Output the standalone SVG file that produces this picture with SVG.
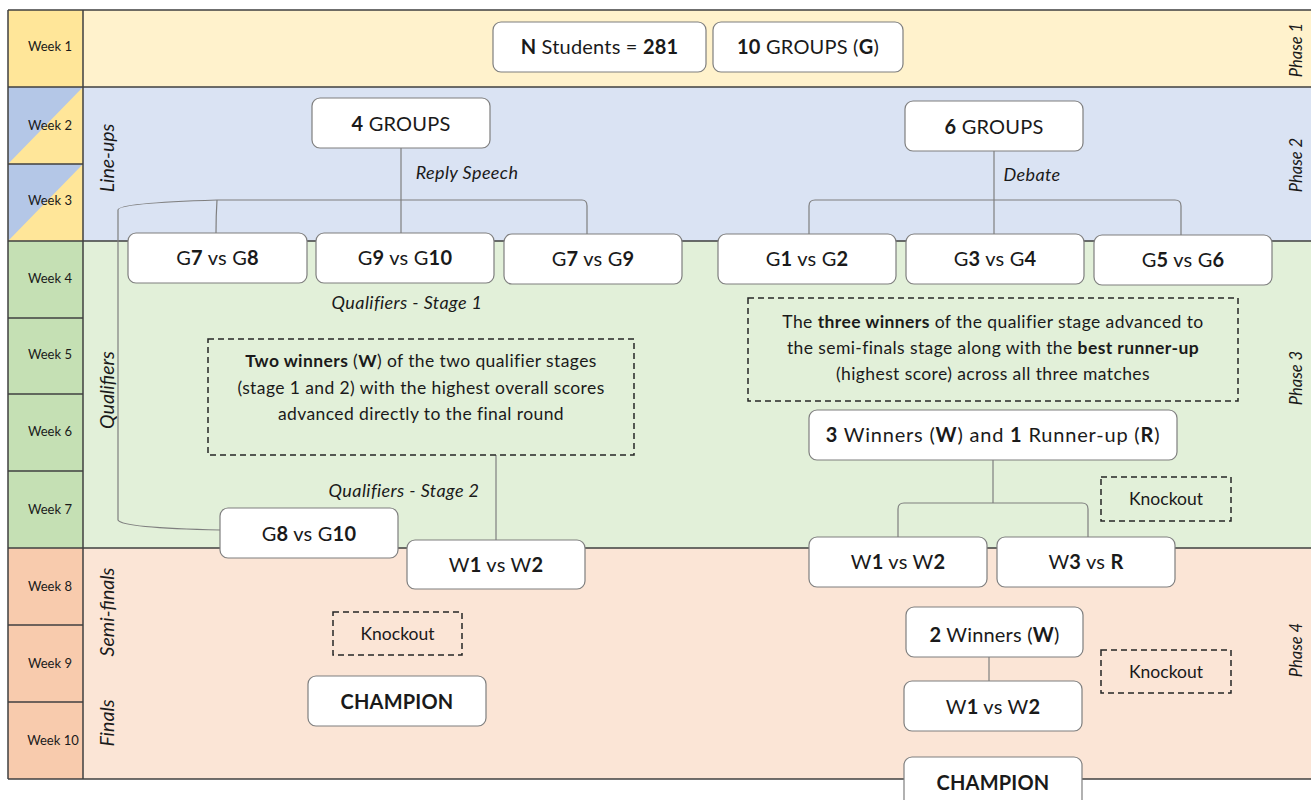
<svg xmlns="http://www.w3.org/2000/svg" width="1311" height="800" viewBox="0 0 1311 800">
<style>
text{font-family:Lato,"Open Sans","Liberation Sans",sans-serif;fill:#1a1a1a}
.wk{font-size:13px;text-anchor:middle}
.side{font-size:19.5px;font-style:italic;text-anchor:middle}
.ph{font-size:16.5px;font-style:italic;text-anchor:middle}
.node{fill:#fff;stroke:#7f7f7f;stroke-width:1.2}
.nt{font-size:20px;text-anchor:middle;letter-spacing:0.2px}
.nt.wide{letter-spacing:0.8px}
.dash{fill:none;stroke:#262626;stroke-width:1.5;stroke-dasharray:6 4}
.dt{font-size:17.5px;text-anchor:middle;letter-spacing:0.4px}
.kt{font-size:17.5px;text-anchor:middle}
.lbl{font-size:18px;font-style:italic;text-anchor:middle;letter-spacing:0.4px}
.b{font-weight:bold}
.conn{fill:none;stroke:#7f7f7f;stroke-width:1.2}
.sep{stroke:#404040;stroke-width:1.5;fill:none}
</style>
<rect width="1311" height="800" fill="#fff"/>
<g id="bands">
<rect x="8" y="10" width="1303" height="77" fill="#FFF2CC"/>
<rect x="8" y="87" width="1303" height="154" fill="#DAE3F3"/>
<rect x="8" y="241" width="1303" height="307" fill="#E2F0D9"/>
<rect x="8" y="548" width="1303" height="231" fill="#FBE5D6"/>
</g>
<g id="weeks">
<rect x="8" y="10" width="75" height="77" fill="#FFE699"/>
<rect x="8" y="87" width="75" height="77" fill="#FFE699"/>
<polygon points="8,87 83,87 8,164" fill="#B4C7E7"/>
<rect x="8" y="164" width="75" height="77" fill="#FFE699"/>
<polygon points="8,164 83,164 8,241" fill="#B4C7E7"/>
<rect x="8" y="241" width="75" height="307" fill="#C5E0B4"/>
<rect x="8" y="548" width="75" height="231" fill="#F8CBAD"/>
<text class="wk" x="50" y="51">Week 1</text>
<text class="wk" x="50" y="130">Week 2</text>
<text class="wk" x="50" y="205">Week 3</text>
<text class="wk" x="50" y="283">Week 4</text>
<text class="wk" x="50" y="359">Week 5</text>
<text class="wk" x="50" y="436">Week 6</text>
<text class="wk" x="50" y="514">Week 7</text>
<text class="wk" x="50" y="591">Week 8</text>
<text class="wk" x="50" y="668">Week 9</text>
<text class="wk" x="53" y="745">Week 10</text>
<path class="sep" d="M8,164H83M8,318H83M8,394H83M8,471H83M8,625H83M8,702H83"/>
</g>
<g id="grid">
<path class="sep" d="M8,10H1311M8,87H1311M8,241H1311M8,548H1311M8,779H1311M8,10V779M83,10V779"/>
</g>
<g id="side-labels">
<text class="side" transform="translate(114,158) rotate(-90)">Line-ups</text>
<text class="side" transform="translate(114,390) rotate(-90)">Qualifiers</text>
<text class="side" transform="translate(114,612) rotate(-90)">Semi-finals</text>
<text class="side" transform="translate(114,723) rotate(-90)">Finals</text>
<text class="ph" transform="translate(1302,50) rotate(-90)">Phase 1</text>
<text class="ph" transform="translate(1302,165) rotate(-90)">Phase 2</text>
<text class="ph" transform="translate(1302,378) rotate(-90)">Phase 3</text>
<text class="ph" transform="translate(1302,650) rotate(-90)">Phase 4</text>
</g>
<g id="connectors">
<path class="conn" d="M401,148V233"/>
<path class="conn" d="M220,530Q122,528 118,520V210Q118,203 217,200H582Q587,200 587,206V234"/>
<path class="conn" d="M217,200Q216,215 216,233"/>
<path class="conn" d="M994,151V234"/>
<path class="conn" d="M809,234V206Q809,200 815,200H1175Q1181,200 1181,206V235"/>
<path class="conn" d="M496,455V540"/>
<path class="conn" d="M993,460V503"/>
<path class="conn" d="M898,537V509Q898,503 904,503H1082Q1088,503 1088,509V537"/>
<path class="conn" d="M989,657V681"/>
</g>
<g id="edge-labels">
<text class="lbl" x="467" y="179">Reply Speech</text>
<text class="lbl" x="1032" y="181">Debate</text>
<text class="lbl" x="407" y="309">Qualifiers - Stage 1</text>
<text class="lbl" x="404" y="497">Qualifiers - Stage 2</text>
</g>
<g id="n-students"><rect class="node" x="493" y="22" width="213" height="50" rx="8"/><text class="nt" x="599.5" y="54"><tspan class="b">N</tspan> Students = <tspan class="b">281</tspan></text></g>
<g id="n-10groups"><rect class="node" x="713" y="22" width="190" height="50" rx="8"/><text class="nt" x="808" y="54"><tspan class="b">10</tspan> GROUPS (<tspan class="b">G</tspan>)</text></g>
<g id="n-4groups"><rect class="node" x="312" y="98" width="178" height="50" rx="8"/><text class="nt" x="401" y="131"><tspan class="b">4</tspan> GROUPS</text></g>
<g id="n-6groups"><rect class="node" x="905" y="101" width="178" height="50" rx="8"/><text class="nt" x="994" y="134"><tspan class="b">6</tspan> GROUPS</text></g>
<g id="n-g7g8"><rect class="node" x="128" y="233" width="179" height="50" rx="8"/><text class="nt" x="217.5" y="265">G<tspan class="b">7</tspan> vs G<tspan class="b">8</tspan></text></g>
<g id="n-g9g10"><rect class="node" x="316" y="233" width="178" height="50" rx="8"/><text class="nt" x="405" y="265">G<tspan class="b">9</tspan> vs G<tspan class="b">10</tspan></text></g>
<g id="n-g7g9"><rect class="node" x="504" y="234" width="178" height="50" rx="8"/><text class="nt" x="593" y="266">G<tspan class="b">7</tspan> vs G<tspan class="b">9</tspan></text></g>
<g id="n-g1g2"><rect class="node" x="718" y="234" width="178" height="50" rx="8"/><text class="nt" x="807" y="266">G<tspan class="b">1</tspan> vs G<tspan class="b">2</tspan></text></g>
<g id="n-g3g4"><rect class="node" x="906" y="234" width="178" height="50" rx="8"/><text class="nt" x="995" y="266">G<tspan class="b">3</tspan> vs G<tspan class="b">4</tspan></text></g>
<g id="n-g5g6"><rect class="node" x="1094" y="235" width="178" height="50" rx="8"/><text class="nt" x="1183" y="267">G<tspan class="b">5</tspan> vs G<tspan class="b">6</tspan></text></g>
<g id="n-note-left"><rect class="dash" x="208" y="339" width="426" height="116"/>
<text class="dt" x="421" y="367"><tspan class="b">Two winners</tspan> (<tspan class="b">W</tspan>) of the two qualifier stages</text>
<text class="dt" x="421" y="394">(stage 1 and 2) with the highest overall scores</text>
<text class="dt" x="421" y="420">advanced directly to the final round</text></g>
<g id="n-note-right"><rect class="dash" x="748" y="298" width="490" height="103"/>
<text class="dt" x="993" y="328">The <tspan class="b">three winners</tspan> of the qualifier stage advanced to</text>
<text class="dt" x="993" y="354">the semi-finals stage along with the <tspan class="b">best runner-up</tspan></text>
<text class="dt" x="993" y="380">(highest score) across all three matches</text></g>
<g id="n-3winners"><rect class="node" x="809" y="410" width="368" height="50" rx="8"/><text class="nt wide" x="993" y="442"><tspan class="b">3</tspan> Winners (<tspan class="b">W</tspan>) and <tspan class="b">1</tspan> Runner-up (<tspan class="b">R</tspan>)</text></g>
<g id="n-ko1"><rect class="dash" x="1101" y="477" width="130" height="44"/><text class="kt" x="1166" y="505">Knockout</text></g>
<g id="n-g8g10"><rect class="node" x="220" y="508" width="178" height="50" rx="8"/><text class="nt" x="309" y="541">G<tspan class="b">8</tspan> vs G<tspan class="b">10</tspan></text></g>
<g id="n-w1w2-left"><rect class="node" x="407" y="540" width="178" height="49" rx="8"/><text class="nt" x="496" y="572">W<tspan class="b">1</tspan> vs W<tspan class="b">2</tspan></text></g>
<g id="n-w1w2-right"><rect class="node" x="809" y="537" width="178" height="50" rx="8"/><text class="nt" x="898" y="569">W<tspan class="b">1</tspan> vs W<tspan class="b">2</tspan></text></g>
<g id="n-w3r"><rect class="node" x="997" y="537" width="178" height="50" rx="8"/><text class="nt" x="1086" y="569">W<tspan class="b">3</tspan> vs <tspan class="b">R</tspan></text></g>
<g id="n-ko-left"><rect class="dash" x="333" y="612" width="129" height="43"/><text class="kt" x="397.5" y="640">Knockout</text></g>
<g id="n-2winners"><rect class="node" x="906" y="607" width="177" height="50" rx="8"/><text class="nt" x="994.5" y="642"><tspan class="b">2</tspan> Winners (<tspan class="b">W</tspan>)</text></g>
<g id="n-ko2"><rect class="dash" x="1101" y="650" width="130" height="43"/><text class="kt" x="1166" y="678">Knockout</text></g>
<g id="n-champ-left"><rect class="node" x="308" y="676" width="178" height="50" rx="8"/><text class="nt b" x="397" y="709">CHAMPION</text></g>
<g id="n-w1w2-final"><rect class="node" x="904" y="681" width="178" height="50" rx="8"/><text class="nt" x="993" y="714">W<tspan class="b">1</tspan> vs W<tspan class="b">2</tspan></text></g>
<g id="n-champ-right"><rect class="node" x="904" y="757" width="178" height="52" rx="8"/><text class="nt b" x="993" y="790">CHAMPION</text></g>
</svg>
